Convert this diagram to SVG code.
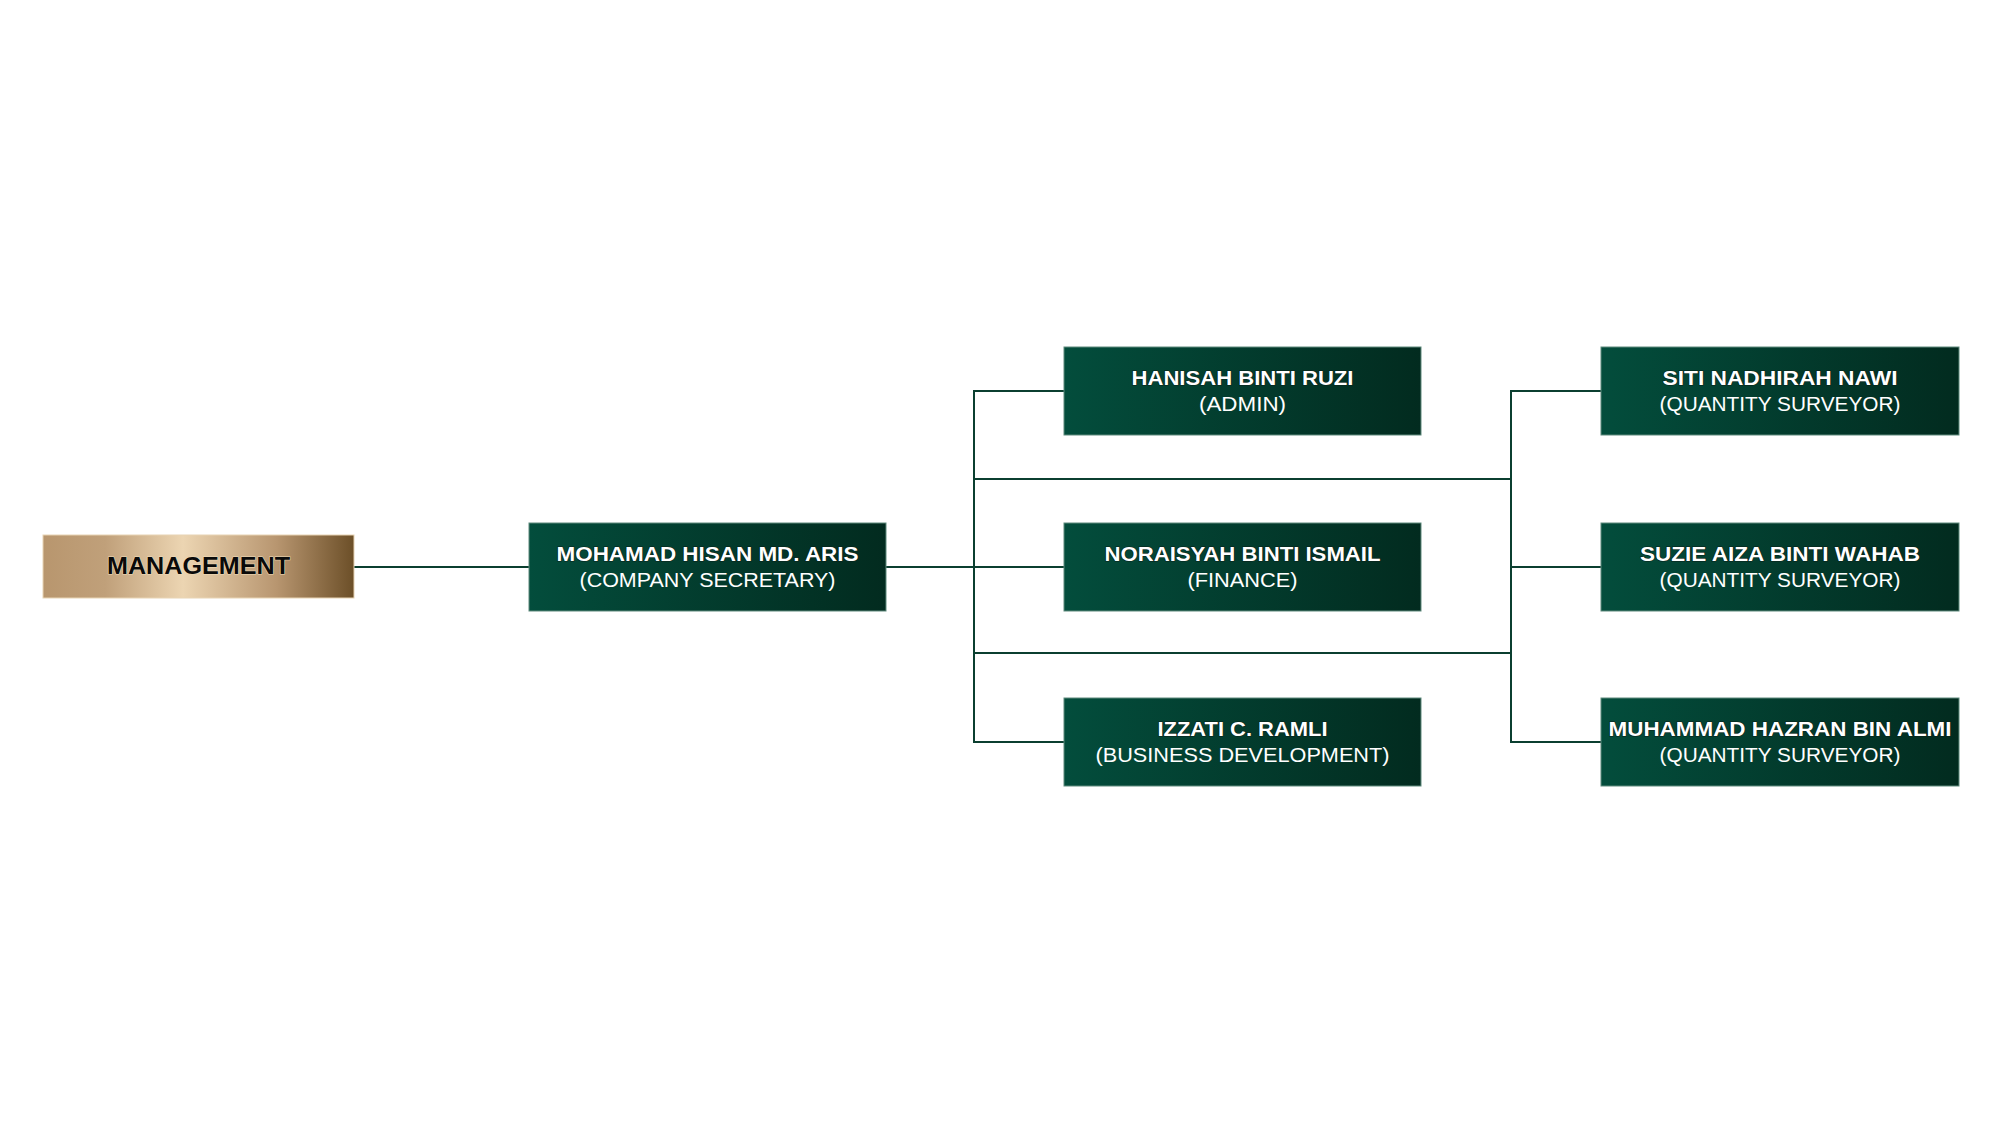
<svg xmlns="http://www.w3.org/2000/svg" width="2000" height="1125" viewBox="0 0 2000 1125">
  <defs>
    <linearGradient id="gGreen" x1="0" y1="0" x2="1" y2="0">
      <stop offset="0" stop-color="#034d3c"/>
      <stop offset="1" stop-color="#022b1f"/>
    </linearGradient>
    <linearGradient id="gGold" x1="0" y1="0" x2="1" y2="0">
      <stop offset="0" stop-color="#b8966e"/>
      <stop offset="0.2" stop-color="#c0a07a"/>
      <stop offset="0.45" stop-color="#ecd5b2"/>
      <stop offset="0.75" stop-color="#b89670"/>
      <stop offset="1" stop-color="#6c4f28"/>
    </linearGradient>
    <style>
      .box { fill: url(#gGreen); stroke: #5e8a7c; stroke-width: 1; }
      .gold { fill: url(#gGold); stroke: #e8d4b4; stroke-width: 1; }
      .t { font-family: "Liberation Sans", Arial, sans-serif; font-size: 20px; font-weight: bold; fill: #ffffff; text-anchor: middle; paint-order: stroke; stroke: #0a2219; stroke-width: 1.2px; }
      .s { font-family: "Liberation Sans", Arial, sans-serif; font-size: 20px; font-weight: normal; fill: #ffffff; text-anchor: middle; }
      .m { font-family: "Liberation Sans", Arial, sans-serif; font-size: 23px; font-weight: bold; fill: #0a0a0a; text-anchor: middle; paint-order: stroke; stroke: #f0dcb8; stroke-width: 1px; }
      .ln { stroke: #0b3f30; stroke-width: 2; fill: none; }
    </style>
  </defs>
  <rect width="2000" height="1125" fill="#ffffff"/>

  <g id="connectors">
    <line class="ln" x1="354" y1="567" x2="529" y2="567"/>
    <line class="ln" x1="886" y1="567" x2="1064" y2="567"/>
    <polyline class="ln" points="1064,391 974,391 974,742 1064,742"/>
    <line class="ln" x1="974" y1="479" x2="1511" y2="479"/>
    <line class="ln" x1="974" y1="653" x2="1511" y2="653"/>
    <polyline class="ln" points="1601,391 1511,391 1511,742 1601,742"/>
    <line class="ln" x1="1511" y1="567" x2="1601" y2="567"/>
  </g>

  <g id="management">
    <rect class="gold" x="43" y="535" width="311" height="63"/>
    <text class="m" x="198.5" y="574" textLength="183" lengthAdjust="spacingAndGlyphs">MANAGEMENT</text>
  </g>

  <g id="mohamad">
    <rect class="box" x="529" y="523" width="357" height="88"/>
    <text class="t" x="707.5" y="561" textLength="302" lengthAdjust="spacingAndGlyphs">MOHAMAD HISAN MD. ARIS</text>
    <text class="s" x="707.5" y="587" textLength="256" lengthAdjust="spacingAndGlyphs">(COMPANY SECRETARY)</text>
  </g>

  <g id="hanisah">
    <rect class="box" x="1064" y="347" width="357" height="88"/>
    <text class="t" x="1242.5" y="385" textLength="222" lengthAdjust="spacingAndGlyphs">HANISAH BINTI RUZI</text>
    <text class="s" x="1242.5" y="411" textLength="87" lengthAdjust="spacingAndGlyphs">(ADMIN)</text>
  </g>

  <g id="noraisyah">
    <rect class="box" x="1064" y="523" width="357" height="88"/>
    <text class="t" x="1242.5" y="561" textLength="276" lengthAdjust="spacingAndGlyphs">NORAISYAH BINTI ISMAIL</text>
    <text class="s" x="1242.5" y="587" textLength="110" lengthAdjust="spacingAndGlyphs">(FINANCE)</text>
  </g>

  <g id="izzati">
    <rect class="box" x="1064" y="698" width="357" height="88"/>
    <text class="t" x="1242.5" y="736" textLength="170" lengthAdjust="spacingAndGlyphs">IZZATI C. RAMLI</text>
    <text class="s" x="1242.5" y="762" textLength="294" lengthAdjust="spacingAndGlyphs">(BUSINESS DEVELOPMENT)</text>
  </g>

  <g id="siti">
    <rect class="box" x="1601" y="347" width="358" height="88"/>
    <text class="t" x="1780" y="385" textLength="235" lengthAdjust="spacingAndGlyphs">SITI NADHIRAH NAWI</text>
    <text class="s" x="1780" y="411" textLength="241" lengthAdjust="spacingAndGlyphs">(QUANTITY SURVEYOR)</text>
  </g>

  <g id="suzie">
    <rect class="box" x="1601" y="523" width="358" height="88"/>
    <text class="t" x="1780" y="561" textLength="280" lengthAdjust="spacingAndGlyphs">SUZIE AIZA BINTI WAHAB</text>
    <text class="s" x="1780" y="587" textLength="241" lengthAdjust="spacingAndGlyphs">(QUANTITY SURVEYOR)</text>
  </g>

  <g id="muhammad">
    <rect class="box" x="1601" y="698" width="358" height="88"/>
    <text class="t" x="1780" y="736" textLength="343" lengthAdjust="spacingAndGlyphs">MUHAMMAD HAZRAN BIN ALMI</text>
    <text class="s" x="1780" y="762" textLength="241" lengthAdjust="spacingAndGlyphs">(QUANTITY SURVEYOR)</text>
  </g>
</svg>
